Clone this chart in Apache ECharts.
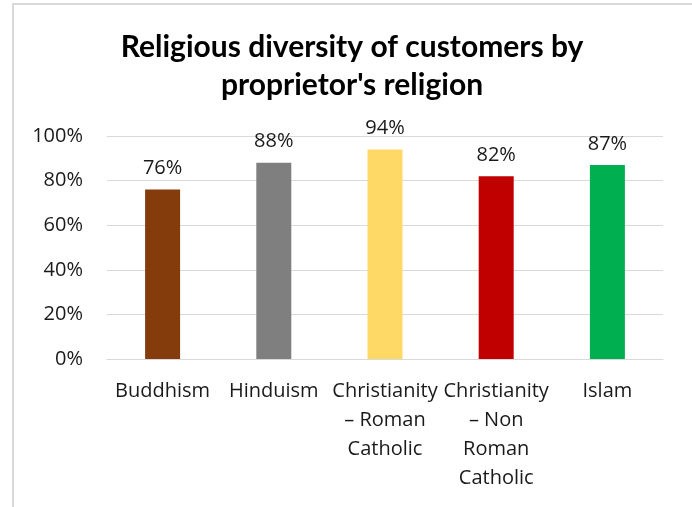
<!DOCTYPE html>
<html><head><meta charset="utf-8">
<script src="https://cdn.jsdelivr.net/npm/echarts@6/dist/echarts.min.js"></script>
<style>html,body{margin:0;padding:0;background:#fff}#c{width:692px;height:507px}</style>
</head><body><div id="c"></div>
<script>
const categories = ["Buddhism", "Hinduism", "Christianity\n– Roman\nCatholic", "Christianity\n– Non\nRoman\nCatholic", "Islam"];
const values = [76, 88, 94, 82, 87];
const barColors = ["#843C0C", "#7F7F7F", "#FFD966", "#C00000", "#00B050"];
const yTicks = [0, 20, 40, 60, 80, 100];
const titleText = "Religious diversity of customers by\nproprietor's religion";
const TITLE_FONT = "Lato, Carlito, sans-serif";
const FONT = "'Open Sans', sans-serif";

const chart = echarts.init(document.getElementById('c'), null, {renderer: 'canvas'});
chart.setOption({
  animation: false,
  backgroundColor: '#fff',
  title: {
    text: titleText, left: 347, top: 23, textAlign: 'center',
    textStyle: {fontFamily: TITLE_FONT, fontWeight: 'bold', fontSize: 30, lineHeight: 38, color: '#000'}
  },
  graphic: [{
    type: 'rect', silent: true,
    shape: {x: 13, y: 4, width: 700, height: 520},
    style: {fill: 'none', stroke: '#D9D9D9', lineWidth: 2}
  }],
  grid: {left: 107, right: 29, top: 136, bottom: 148, containLabel: false},
  xAxis: {
    type: 'category', data: categories,
    axisLine: {show: true, lineStyle: {color: '#D9D9D9', width: 1}},
    axisTick: {show: false},
    axisLabel: {interval: 0, fontFamily: FONT, fontSize: 20, lineHeight: 29, color: '#1a1a1a', margin: 18, verticalAlign: 'top'}
  },
  yAxis: {
    type: 'value', min: 0, max: 100, interval: 20,
    axisLine: {show: false}, axisTick: {show: false},
    splitLine: {lineStyle: {color: '#D9D9D9', width: 1}},
    axisLabel: {formatter: v => yTicks.includes(v) ? v + '%' : '', fontFamily: FONT, fontSize: 20, color: '#1a1a1a', margin: 24}
  },
  series: [{
    type: 'bar', barWidth: 35,
    data: values.map((v, i) => ({value: v, itemStyle: {color: barColors[i]}})),
    label: {show: true, position: 'top', distance: 11, formatter: p => p.value + '%', fontFamily: FONT, fontSize: 20, color: '#1a1a1a'}
  }]
});
</script></body></html>
